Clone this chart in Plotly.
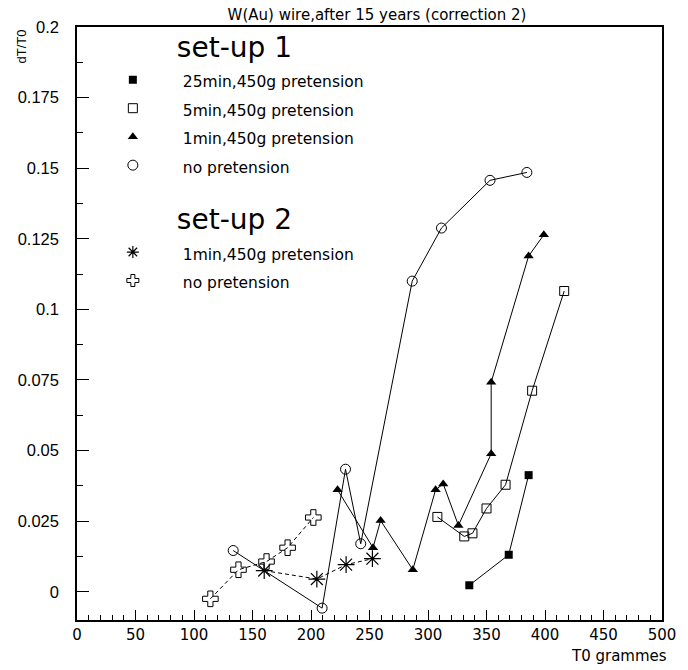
import plotly.graph_objects as go

# set-up 1
sq_filled_x = [335.3, 369.0, 386.0]
sq_filled_y = [0.0023, 0.0131, 0.0413]

sq_open_x = [308.0, 331.0, 338.0, 350.0, 366.3, 389.0, 416.4]
sq_open_y = [0.0265, 0.0196, 0.0207, 0.0295, 0.0379, 0.0712, 0.1065]

tri_x = [222.7, 253.0, 259.5, 287.0, 306.5, 313.0, 326.0, 354.0, 354.0, 386.0, 399.0]
tri_y = [0.0361, 0.0156, 0.0252, 0.0078, 0.0361, 0.0382, 0.0235, 0.0489, 0.0742, 0.1189, 0.1264]

circ_x = [133.5, 209.5, 229.5, 242.5, 286.5, 311.5, 353.0, 384.5]
circ_y = [0.0146, -0.0058, 0.0434, 0.0170, 0.1100, 0.1288, 0.1457, 0.1485]

# set-up 2
star_x = [160.0, 205.0, 230.0, 252.5]
star_y = [0.0075, 0.0045, 0.0096, 0.0117]

cross_x = [114.0, 138.0, 162.0, 180.0, 202.0]
cross_y = [-0.0025, 0.0078, 0.0107, 0.0156, 0.0263]

names1 = ["25min,450g pretension", "5min,450g pretension", "1min,450g pretension", "no pretension"]
names2 = ["1min,450g pretension", "no pretension"]
x_ticks = [0, 50, 100, 150, 200, 250, 300, 350, 400, 450, 500]
y_ticks = [0, 0.025, 0.05, 0.075, 0.1, 0.125, 0.15, 0.175, 0.2]
y_ticklabels = ["0", "0.025", "0.05", "0.075", "0.1", "0.125", "0.15", "0.175", "0.2"]

SOFT = "DejaVu Sans"
HELV = "Liberation Sans"

series = [
    (sq_filled_x, sq_filled_y, "square", 8, 0, "solid", "set-up 1", names1[0]),
    (sq_open_x, sq_open_y, "square-open", 9, 1, "solid", "set-up 1", names1[1]),
    (tri_x, tri_y, "triangle-up", 9, 0, "solid", "set-up 1", names1[2]),
    (circ_x, circ_y, "circle-open", 10, 1, "solid", "set-up 1", names1[3]),
    (star_x, star_y, "asterisk-open", 14, 1.2, "dash", "set-up 2", names2[0]),
    (cross_x, cross_y, "cross-open", 13, 1, "dash", "set-up 2", names2[1]),
]

fig = go.Figure()
NB = "\u00a0"
for xs, ys, sym, size, lw, dash, grp, name in series:
    fig.add_trace(go.Scatter(
        x=xs, y=ys, mode="lines+markers", showlegend=False,
        line=dict(color="black", width=1, dash=dash if dash == "solid" else "4px,3px"),
        marker=dict(symbol=sym, size=size, color="black", line=dict(color="black", width=lw)),
    ))
    # legend entry (marker only)
    fig.add_trace(go.Scatter(
        x=[None], y=[None], mode="markers", name=f'<span style="font-size:15.5px">{name}</span>',
        legendgroup=grp,
        legendgrouptitle=dict(text=NB * 10 + grp, font=dict(size=28, family=SOFT, color="black")),
        marker=dict(symbol=sym, size=min(size, 10), color="black", line=dict(color="black", width=lw)),
    ))

fig.update_layout(
    width=688, height=670,
    margin=dict(l=77, r=19, t=27, b=50),
    paper_bgcolor="white", plot_bgcolor="white",
    font=dict(family=SOFT, color="black", size=14),
    title=dict(text="W(Au) wire,after 15 years (correction 2)", x=0.548, xanchor="center",
               y=0.978, yanchor="middle", font=dict(family=SOFT, size=15, color="black")),
    legend=dict(x=0.01, y=1.01, xanchor="left", yanchor="top", bgcolor="rgba(0,0,0,0)",
                font=dict(family=SOFT, size=19.6, color="black"), tracegroupgap=19,
                itemwidth=90, traceorder="grouped"),
    xaxis=dict(range=[0, 500], tickvals=x_ticks, ticks="inside", ticklen=10, tickwidth=1,
               tickcolor="black", showline=True, linecolor="black", linewidth=1.5, mirror=True,
               showgrid=False, zeroline=False, ticklabelstandoff=0,
               tickfont=dict(family=SOFT, size=15, color="black"),
               minor=dict(dtick=10, ticks="inside", ticklen=5, tickcolor="black", showgrid=False)),
    yaxis=dict(range=[-0.01, 0.2], tickvals=y_ticks, ticktext=y_ticklabels, ticks="inside",
               ticklen=12, tickwidth=1, tickcolor="black", showline=True, linecolor="black",
               linewidth=1.5, mirror=True, showgrid=False, zeroline=False, ticklabelstandoff=13,
               tickfont=dict(family=HELV, size=16.5, color="black"),
               minor=dict(dtick=0.0125, tick0=0, ticks="inside", ticklen=6, tickcolor="black",
                          showgrid=False)),
    annotations=[
        dict(text="T0 grammes", xref="paper", yref="paper", x=1.012, y=-0.043, xanchor="right",
             yanchor="top", showarrow=False, font=dict(family=SOFT, size=15, color="black")),
        dict(text="dT/T0", xref="paper", yref="paper", x=-0.095, y=1.0, xanchor="center",
             yanchor="top", textangle=-90, showarrow=False,
             font=dict(family=HELV, size=13, color="black")),
    ],
)

fig.write_html("out.html")
